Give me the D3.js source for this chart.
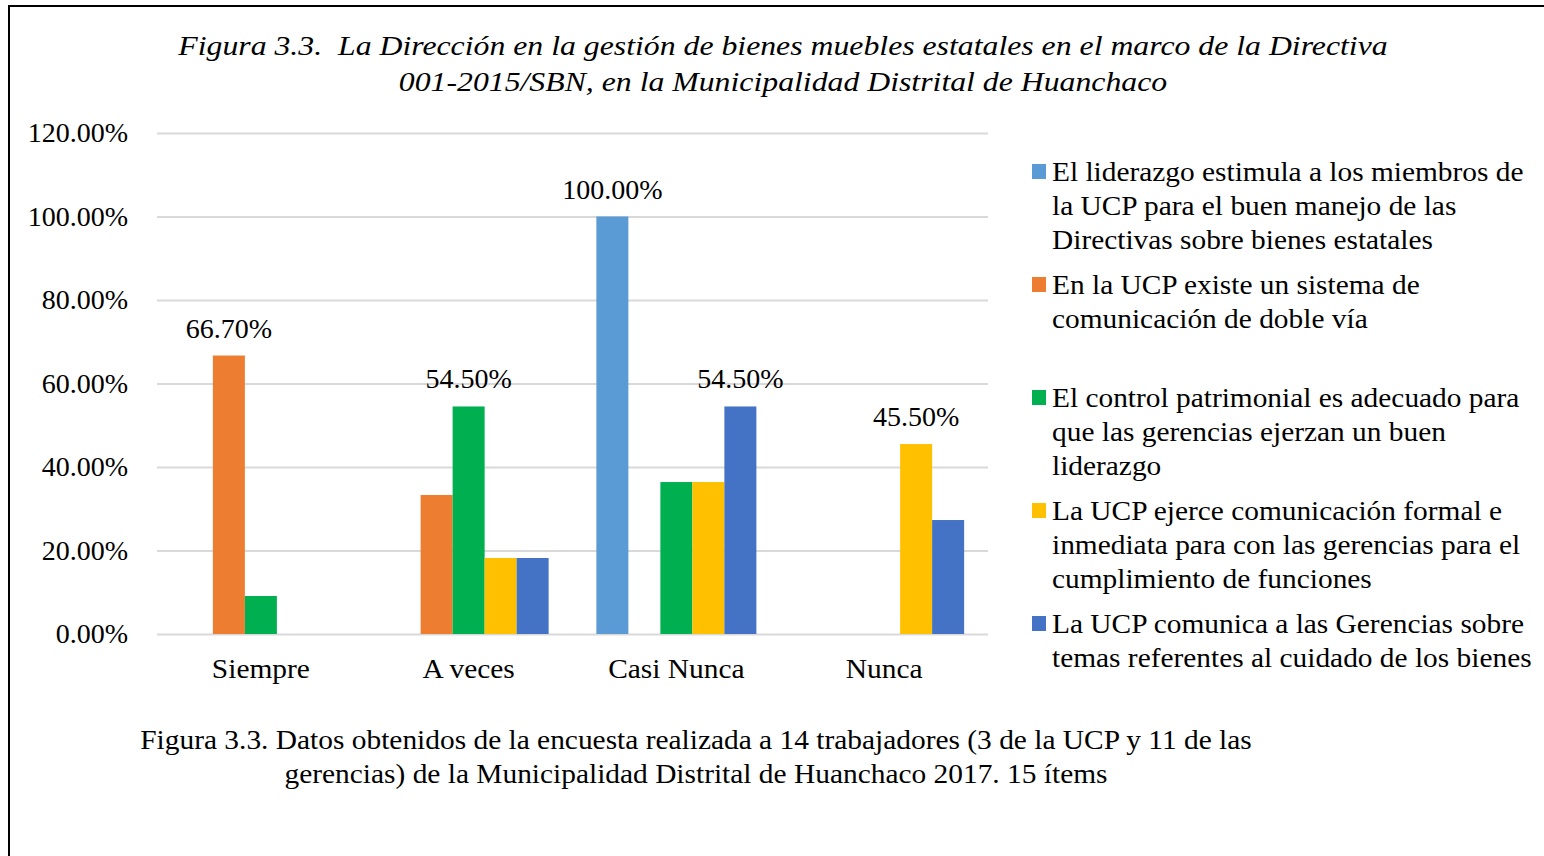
<!DOCTYPE html>
<html><head><meta charset="utf-8">
<script src="https://cdn.jsdelivr.net/npm/d3@7"></script>
<style>
html,body{margin:0;padding:0;background:#fff;}
svg{display:block;font-family:"Liberation Serif","Times New Roman",serif;}
text{white-space:pre;}
</style></head>
<body><svg id="c" width="1544" height="856"></svg>
<script>
const categories = ["Siempre", "A veces", "Casi Nunca", "Nunca"];
const seriesNames = [
  ["El liderazgo estimula a los miembros de", "la UCP para el buen manejo de las", "Directivas sobre bienes estatales"],
  ["En la UCP existe un sistema de", "comunicación de doble vía"],
  ["El control patrimonial es adecuado para", "que las gerencias ejerzan un buen", "liderazgo"],
  ["La UCP ejerce comunicación formal e", "inmediata para con las gerencias para el", "cumplimiento de funciones"],
  ["La UCP comunica a las Gerencias sobre", "temas referentes al cuidado de los bienes"]
];
const seriesColors = ["#5B9BD5", "#ED7D31", "#00B050", "#FFC000", "#4472C4"];
// values per series, aligned with categories (percent)
const liderazgo = [0, 0, 100, 0];
const sistemaComunicacion = [66.7, 33.3, 0, 0];
const controlPatrimonial = [9.1, 54.5, 36.4, 0];
const comunicacionFormal = [0, 18.2, 36.4, 45.5];
const comunicaGerencias = [0, 18.2, 54.5, 27.3];
const seriesValues = [liderazgo, sistemaComunicacion, controlPatrimonial, comunicacionFormal, comunicaGerencias];
// data labels shown: [seriesIndex, categoryIndex]
const labelled = [[1,0],[2,1],[0,2],[4,2],[3,3]];
const yTicks = [0, 20, 40, 60, 80, 100, 120];
const titleLines = ["Figura 3.3.  La Dirección en la gestión de bienes muebles estatales en el marco de la Directiva",
                    "001-2015/SBN, en la Municipalidad Distrital de Huanchaco"];
const captionLines = ["Figura 3.3. Datos obtenidos de la encuesta realizada a 14 trabajadores (3 de la UCP y 11 de las",
                      "gerencias) de la Municipalidad Distrital de Huanchaco 2017. 15 ítems"];

const svg = d3.select("#c");
function stretch(sel, k){
  sel.each(function(){
    const w = this.getComputedTextLength();
    d3.select(this).attr("textLength", w*k).attr("lengthAdjust","spacingAndGlyphs");
  });
}
// frame
svg.append("path").attr("d","M9,870 L9,6 L1560,6").attr("fill","none").attr("stroke","#000").attr("stroke-width",2);

// title
const tt = svg.append("g").selectAll("text").data(titleLines).join("text")
  .attr("x",783).attr("y",(d,i)=>55+i*36).attr("text-anchor","middle")
  .attr("font-style","italic").attr("font-size",27.5).attr("fill","#000").text(d=>d);
stretch(tt, 1.155);

const plot = {left:157, right:988, top:133, bottom:634};
const y = d3.scaleLinear().domain([0,120]).range([plot.bottom, plot.top]);
const x0 = d3.scaleBand().domain(categories).range([plot.left, plot.right]).paddingInner(0).paddingOuter(0);
const innerW = 160;
const x1 = d3.scaleBand().domain(d3.range(seriesValues.length)).range([0, innerW]).padding(0);

// gridlines + y tick labels
const grid = d3.axisLeft(y).tickValues(yTicks).tickSize(-(plot.right-plot.left)).tickFormat(d=>d.toFixed(2)+"%");
const gAxis = svg.append("g").attr("transform",`translate(${plot.left},0)`).call(grid);
gAxis.attr("font-family",null).attr("font-size",null);
gAxis.select(".domain").remove();
gAxis.selectAll(".tick line").attr("stroke","#d9d9d9").attr("stroke-width",2);
gAxis.selectAll(".tick text").attr("x",-29).attr("dy","0.32em").attr("font-size",28).attr("fill","#000");

// bars
const groups = svg.append("g").selectAll("g").data(categories).join("g")
  .attr("transform",d=>`translate(${x0(d)+x0.bandwidth()/2-innerW/2},0)`);
groups.selectAll("rect").data((c,ci)=>seriesValues.map((vals,si)=>({si,v:vals[ci]})).filter(d=>d.v>0)).join("rect")
  .attr("x",d=>x1(d.si)).attr("width",x1.bandwidth())
  .attr("y",d=>y(d.v)).attr("height",d=>y(0)-y(d.v))
  .attr("fill",d=>seriesColors[d.si]);

// data labels
svg.append("g").selectAll("text").data(labelled).join("text")
  .attr("x",([si,ci])=>x0(categories[ci])+x0.bandwidth()/2-innerW/2+x1(si)+x1.bandwidth()/2)
  .attr("y",([si,ci])=>y(seriesValues[si][ci])-18)
  .attr("text-anchor","middle").attr("font-size",28).attr("fill","#000")
  .text(([si,ci])=>seriesValues[si][ci].toFixed(2)+"%");

// x axis labels
const xa = d3.axisBottom(x0).tickSize(0);
const gx = svg.append("g").attr("transform",`translate(0,${plot.bottom})`).call(xa);
gx.attr("font-family",null).attr("font-size",null);
gx.select(".domain").remove();
const xt = gx.selectAll(".tick text").attr("y",44).attr("dy",0).attr("font-size",27.5).attr("fill","#000");
stretch(xt, 1.07);

// legend
const legendTops = [181, 294, 407, 520, 633];
const lg = svg.append("g").selectAll("g").data(seriesNames).join("g")
  .attr("transform",(d,i)=>`translate(1032,${legendTops[i]})`);
lg.append("rect").attr("x",0).attr("y",-17).attr("width",14).attr("height",15).attr("fill",(d,i)=>seriesColors[i]);
const lt = lg.selectAll("text").data(d=>d).join("text").attr("x",20).attr("y",(d,i)=>i*33.8)
  .attr("font-size",27).attr("fill","#000").text(d=>d);
stretch(lt, 1.088);

// caption
const ct = svg.append("g").selectAll("text").data(captionLines).join("text")
  .attr("x",696).attr("y",(d,i)=>749+i*34).attr("text-anchor","middle")
  .attr("font-size",27).attr("fill","#000").text(d=>d);
stretch(ct, 1.089);
</script></body></html>
